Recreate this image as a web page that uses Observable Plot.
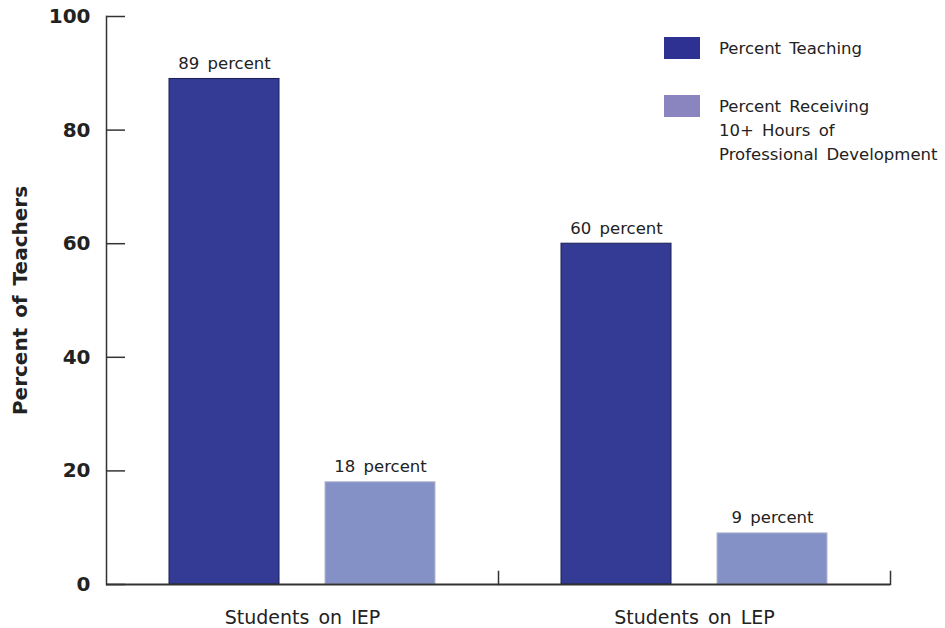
<!DOCTYPE html>
<html>
<head>
<meta charset="utf-8">
<script src="https://cdn.jsdelivr.net/npm/d3@7"></script>
<script src="https://cdn.jsdelivr.net/npm/@observablehq/plot@0.6"></script>
<style>
  html, body { margin: 0; padding: 0; background: #fff; }
  #wrap { position: relative; width: 945px; height: 628px; font-family: "DejaVu Sans", sans-serif; color: #222; }
  #wrap svg { font-family: "DejaVu Sans", sans-serif; }
  #wrap svg text { word-spacing: 3px; }
  .legend { position: absolute; left: 664px; top: 37px; font-size: 16.5px; line-height: 24px; word-spacing: 3px; color: #222; }
  .legend .item { position: relative; padding-left: 55px; }
  .legend .swatch { position: absolute; left: 0; width: 36px; height: 22px; }
</style>
</head>
<body>
<div id="wrap"></div>
<script>
// Share of teachers teaching each student group, and share with 10+ hours of PD
const categories = ["Students on IEP", "Students on LEP"];
const series = ["Percent Teaching", "Percent Receiving 10+ Hours of Professional Development"];
const teaching = [89, 60];
const development = [18, 9];
const yTicks = [0, 20, 40, 60, 80, 100];

const barFill = ["#343b94", "#8491c6"];
const barStroke = ["#1c1f55", "#b4b8cc"];
const legendFill = ["#2e3192", "#8a84bf"];
const legendLines = [["Percent Teaching"], ["Percent Receiving", "10+ Hours of", "Professional Development"]];

const rows = categories.flatMap((c, i) => [
  {category: c, series: series[0], value: teaching[i]},
  {category: c, series: series[1], value: development[i]}
]);

const chart = Plot.plot({
  width: 945,
  height: 628,
  marginLeft: 106,
  marginRight: 55,
  marginTop: 16,
  marginBottom: 44,
  style: {fontFamily: "DejaVu Sans, sans-serif", color: "#222", background: "#fff"},
  fx: {domain: categories, padding: 0},
  x: {domain: series, paddingInner: 0.293, paddingOuter: 0.395, axis: null},
  y: {domain: [0, 100]},
  marks: [
    ...series.map((s, k) => Plot.barY(rows.filter(d => d.series === s), {
      fx: "category", x: "series", y: "value",
      fill: barFill[k], stroke: barStroke[k], strokeWidth: 1
    })),
    Plot.text(rows, {
      fx: "category", x: "series", y: "value",
      text: d => `${d.value} percent`,
      lineAnchor: "bottom", dy: -10, fontSize: 16.5, fill: "#222"
    }),
    Plot.ruleY([0], {stroke: "#333", strokeWidth: 2}),
    Plot.frame({anchor: "left", facetAnchor: "left", stroke: "#333", strokeWidth: 1.5}),
    Plot.frame({anchor: "right", insetTop: 555, stroke: "#333", strokeWidth: 1.5}),
    Plot.axisY(yTicks, {
      tickSize: -19, tickPadding: 35, fontSize: 20, fontWeight: "bold",
      stroke: "#333", strokeWidth: 1.5, label: null
    }),
    Plot.axisY({
      ticks: [], label: "Percent of Teachers", labelAnchor: "center", labelArrow: "none",
      labelOffset: 94, fontSize: 20, fontWeight: "bold"
    }),
    Plot.axisFx({
      anchor: "bottom", tickSize: 0, tickPadding: 26, fontSize: 19, label: null
    })
  ]
});

const wrap = document.getElementById("wrap");
wrap.appendChild(chart);

// Legend, drawn as HTML over the plot area
const legend = document.createElement("div");
legend.className = "legend";
legendLines.forEach((lines, k) => {
  const item = document.createElement("div");
  item.className = "item";
  item.style.marginBottom = k === 0 ? "34px" : "0";
  const sw = document.createElement("div");
  sw.className = "swatch";
  sw.style.background = legendFill[k];
  sw.style.top = "0px";
  item.appendChild(sw);
  lines.forEach(t => {
    const line = document.createElement("div");
    line.textContent = t;
    item.appendChild(line);
  });
  legend.appendChild(item);
});
wrap.appendChild(legend);
</script>
</body>
</html>
